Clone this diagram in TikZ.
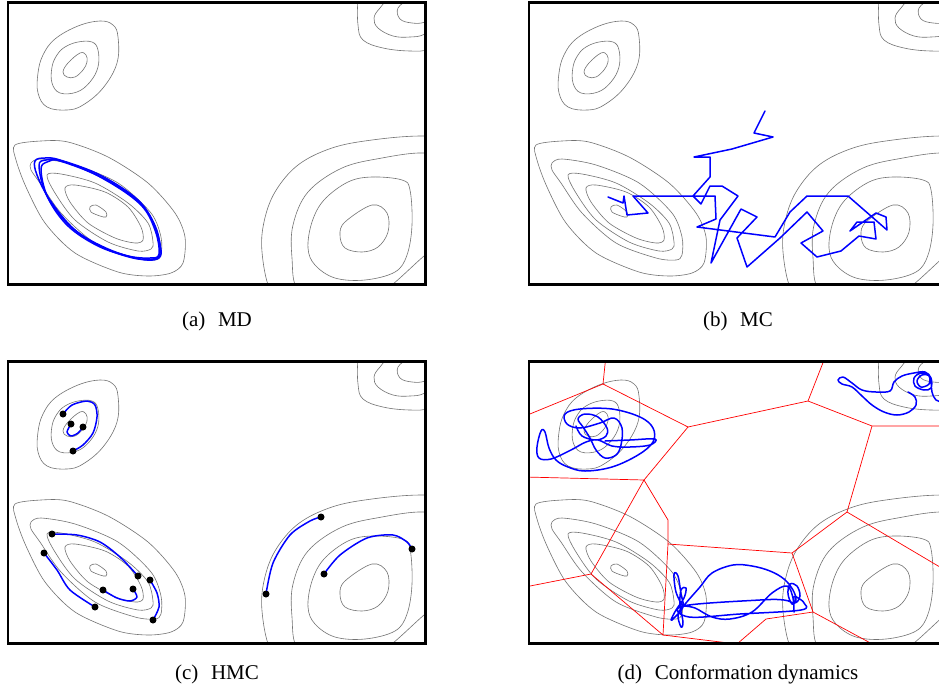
\documentclass[tikz,border=0pt]{standalone}
\usepackage{fontspec}
\setmainfont{Liberation Serif}
\newcommand\pesmap{%
 % top-left basin
 \draw[contour] plot[smooth cycle,tension=0.65] coordinates {(55,39) (78,26) (100,21) (113,25) (118,37) (117,63) (103,88) (83,105) (67,110) (47,107) (38,93) (38,73) (43,55)};
 \draw[contour] plot[smooth cycle,tension=0.65] coordinates {(65,47) (78,42) (92,42) (98,50) (98,67) (90,82) (77,92) (60,93) (52,83) (52,67) (57,55)};
 \draw[contour] plot[smooth cycle,tension=0.65] coordinates {(80,53) (86,55) (87,62) (83,70) (75,77) (67,77) (63,72) (68,63)};
 % top-right basin
 \draw[contour] plot[smooth cycle,tension=0.65] coordinates {(358,0) (358,25) (363,40) (383,48) (410,51) (430,49) (460,35) (470,0) (440,-25) (390,-25) (362,-15)};
 \draw[contour] plot[smooth cycle,tension=0.65] coordinates {(392,-3) (380,8) (374,18) (378,28) (393,36) (410,37) (425,34) (445,20) (445,0) (420,-10)};
 \draw[contour] plot[smooth cycle,tension=0.65] coordinates {(410,-1) (398,8) (400,19) (412,23) (425,22) (435,14) (432,2) (420,-3)};
 % lower-left basin
 \draw[contour] plot[smooth cycle,tension=0.5] coordinates {(15,145) (41,141) (68,142) (108,157) (148,183) (175,213) (185,237) (183,263) (171,273) (148,276) (118,272) (75,253) (45,223) (26,187) (16,160)};
 \draw[contour] plot[smooth cycle,tension=0.5] coordinates {(31,163) (41,159) (75,165) (118,183) (151,213) (161,237) (161,255) (155,260) (135,258) (95,243) (61,213) (40,183) (31,170)};
 \draw[contour] plot[smooth cycle,tension=0.5] coordinates {(47,175) (61,174) (95,183) (128,203) (148,223) (153,242) (151,249) (138,251) (108,242) (75,220) (55,193)};
 \draw[contour] plot[smooth cycle,tension=0.5] coordinates {(65,188) (75,185) (105,192) (128,207) (141,227) (143,240) (135,243) (115,238) (88,223) (70,202)};
 \draw[contour] plot[smooth cycle,tension=0.55] coordinates {(90,207) (96,205) (106,212) (106,217) (100,216) (91,212)};
 % lower-right basin
 \draw[contour] plot[smooth cycle,tension=0.6] coordinates {(270,290) (262,252) (264,222) (275,192) (298,165) (332,148) (372,140) (422,136) (470,140) (495,200) (485,270) (440,310) (350,320) (290,315)};
 \draw[contour] plot[smooth cycle,tension=0.6] coordinates {(298,290) (292,258) (293,225) (308,192) (342,168) (382,158) (422,153) (445,160) (455,200) (445,240) (424,256) (393,284) (370,300) (330,305)};
 \draw[contour] plot[smooth cycle,tension=0.6] coordinates {(308,248) (312,222) (324,200) (348,182) (372,177) (402,180) (410,190) (412,225) (407,255) (395,272) (365,280) (335,278) (315,265)};
 \draw[contour] plot[smooth cycle,tension=0.6] coordinates {(340,235) (345,222) (372,205) (387,213) (388,232) (378,247) (362,252) (345,248)};
}
\begin{document}
\begin{tikzpicture}[x=1pt,y=-1pt,
  contour/.style={draw=black!55, line width=0.6pt},
  panelframe/.style={draw=black, line width=2.8pt},
  traj/.style={draw=blue, line width=1.5pt, line join=round, line cap=round},
  vor/.style={draw=red, line width=0.7pt},
  hmcdot/.style={circle, fill=black, inner sep=0pt, minimum size=7pt},
  captext/.style={anchor=base, font=\fontsize{21}{25}\selectfont, inner sep=0pt}]
\useasboundingbox (0,0) rectangle (939,693);
\fill[white] (0,0) rectangle (939,693);

% contour maps in the four panels
\foreach \dx/\dy in {0/0, 521/0, 0/359, 521/359} {
  \begin{scope}[shift={(\dx,\dy)}]
    \clip (8,2.5) rectangle (425.5,284.5);
    \pesmap
  \end{scope}
}

% (a) MD
\draw[traj] plot[smooth cycle,tension=0.6] coordinates {(35,161) (45,158) (60,160) (100,175) (138,200) (154,225) (161,250) (157,259) (140,259) (108,249) (75,230) (50,200) (37,175)};
\draw[traj] plot[smooth cycle,tension=0.6] coordinates {(41,170) (47,162) (62,161) (102,178) (140,204) (155,230) (159,254) (150,258) (128,256) (98,246) (68,226) (48,198)};
\draw[traj] plot[smooth cycle,tension=0.6] coordinates {(39,166) (46,160) (60,161) (101,177) (139,202) (156,228) (160,253) (153,259) (133,258) (102,247) (70,226) (47,196)};

% (b) MC
\draw[traj] (608,197) -- (623,203) -- (624,196) -- (627,215) -- (648,213) -- (633,196) -- (715,196) -- (716,219) -- (697,227) -- (775,237) -- (790,212) -- (807,196) -- (848,196) -- (887,230) -- (886,217) -- (876,213) -- (850,231) -- (857,222) -- (874,222) -- (876,239) -- (859,236) -- (841,251) -- (817,257) -- (801,243) -- (823,231) -- (807,212) -- (780,238) -- (747,267) -- (737,238) -- (757,217) -- (741,209) -- (711,263) -- (720,220) -- (738,196) -- (722,186) -- (710,186) -- (701,204) -- (693,196) -- (710,177) -- (710,157) -- (694,157) -- (732,149) -- (773,137) -- (754,133) -- (765,111);

% (c) HMC
\draw[traj] plot[smooth] coordinates {(63,414) (72,405) (87,401) (95,405) (97,417) (93,433) (83,445) (73,451)};
\draw[traj] plot[smooth] coordinates {(71,424) (67,432) (71,436) (78,433) (83,427)};
\draw[traj] plot[smooth] coordinates {(52,534) (77,535) (100,542) (120,557) (138,576)};
\draw[traj] plot[smooth] coordinates {(44,553) (57,570) (70,590) (95,607)};
\draw[traj] plot[smooth] coordinates {(103,590) (117,598) (130,601) (137,597) (133,589)};
\draw[traj] plot[smooth] coordinates {(150,580) (157,593) (159,607) (153,620)};
\draw[traj] plot[smooth] coordinates {(266,594) (273,563) (290,535) (310,521) (321,517)};
\draw[traj] plot[smooth] coordinates {(324,574) (340,555) (367,538) (393,535) (407,542) (412,549)};
\foreach \n/\p in {c1/{(63,414)}, c2/{(73,451)}, c3/{(71,424)}, c4/{(83,427)},
                   c5/{(52,534)}, c6/{(138,576)}, c7/{(44,553)}, c8/{(95,607)},
                   c9/{(103,590)}, c10/{(133,589)}, c11/{(150,580)}, c12/{(153,620)},
                   c13/{(266,594)}, c14/{(321,517)}, c15/{(324,574)}, c16/{(412,549)}}
  \node[hmcdot] (\n) at \p {};

% (d) Conformation dynamics
\begin{scope}
  \clip (529,361.5) rectangle (946.5,643.5);
  \coordinate (P1) at (603,384);  \coordinate (T1) at (606,355);
  \coordinate (L1) at (525,416);  \coordinate (P2) at (688,427);
  \coordinate (P3) at (808,401);  \coordinate (T3) at (826,355);
  \coordinate (P4) at (872,426);  \coordinate (R4) at (950,426);
  \coordinate (P5) at (847,512);  \coordinate (P6) at (792,553);
  \coordinate (R5) at (950,573);  \coordinate (P7) at (644,480);
  \coordinate (L7) at (525,477);  \coordinate (Q7) at (668,520);
  \coordinate (P8) at (668,544);  \coordinate (P9) at (663,635);
  \coordinate (P10) at (591,574); \coordinate (L10) at (525,587);
  \coordinate (B9) at (737,644);  \coordinate (Q11) at (766,619);
  \coordinate (P11) at (813,612); \coordinate (B11) at (876,646);
  \draw[vor] (T1) -- (P1) -- (L1);
  \draw[vor] (P1) -- (P2) -- (P3) -- (T3);
  \draw[vor] (P3) -- (P4) -- (R4);
  \draw[vor] (P4) -- (P5) -- (R5);
  \draw[vor] (P5) -- (P6) -- (P8) -- (Q7) -- (P7) -- (P2);
  \draw[vor] (L7) -- (P7) -- (P10) -- (L10);
  \draw[vor] (P10) -- (P9) -- (P8);
  \draw[vor] (P9) -- (B9) -- (Q11) -- (P11) -- (P6);
  \draw[vor] (P11) -- (B11);
  \draw[traj] plot[smooth,tension=0.6] coordinates {(605,441) (630,440) (655,439) (650,445) (630,447) (612,446) (598,440) (586,442) (571,450) (551,459) (539,458) (537,447) (541,431) (545,432) (549,448) (556,460) (568,467) (585,471) (612,467) (638,455) (653,442) (653,428) (640,417) (612,409) (580,409) (565,414) (567,424) (580,428) (600,423) (614,418) (622,428) (621,445) (616,455) (605,458) (596,450) (590,438) (583,427) (578,419) (585,414) (598,417) (607,428) (606,436) (596,440) (582,436) (576,426)};
  \draw[traj] plot[smooth,tension=0.6] coordinates {(908,392) (915,397) (916,405) (909,412) (897,415) (884,412) (872,405) (862,396) (852,387) (842,384) (838,380) (843,377) (852,383) (862,390) (876,392) (890,391) (894,382) (902,376) (914,373) (925,372) (931,378) (931,388) (924,390) (915,386) (914,378) (921,373) (929,376) (929,384) (921,387) (917,381) (922,375) (930,377) (932,392) (936,400) (942,402)};
  \draw[traj] plot[smooth,tension=0.6] coordinates {(683,607) (676,592) (674,574) (678,576) (681,594) (683,607) (674,618) (671,620) (676,610) (684,598) (686,588) (681,590) (680,605) (683,622) (681,627) (678,614) (686,603) (700,587) (712,573) (733,565) (752,566) (770,571) (784,579) (793,590) (796,600) (792,604) (788,594) (790,584) (797,586) (800,596) (795,603) (784,600) (760,600) (683,606) (689,617) (740,614) (801,610) (804,603) (798,598) (794,597) (794,612) (793,598) (787,586) (772,593) (752,612) (730,619) (712,617) (695,608) (684,606)};
\end{scope}

% frames
\draw[panelframe] (8,2.5) rectangle (425.5,284.5);
\draw[panelframe] (529,2.5) rectangle (946.5,284.5);
\draw[panelframe] (8,361.5) rectangle (425.5,643.5);
\draw[panelframe] (529,361.5) rectangle (946.5,643.5);

% captions
\node[captext] (capa) at (217,326) {(a)\hspace{0.6em}MD};
\node[captext] (capb) at (738,326) {(b)\hspace{0.6em}MC};
\node[captext] (capc) at (217,679) {(c)\hspace{0.6em}HMC};
\node[captext] (capd) at (738,679) {(d)\hspace{0.6em}Conformation dynamics};
\end{tikzpicture}
\end{document}
